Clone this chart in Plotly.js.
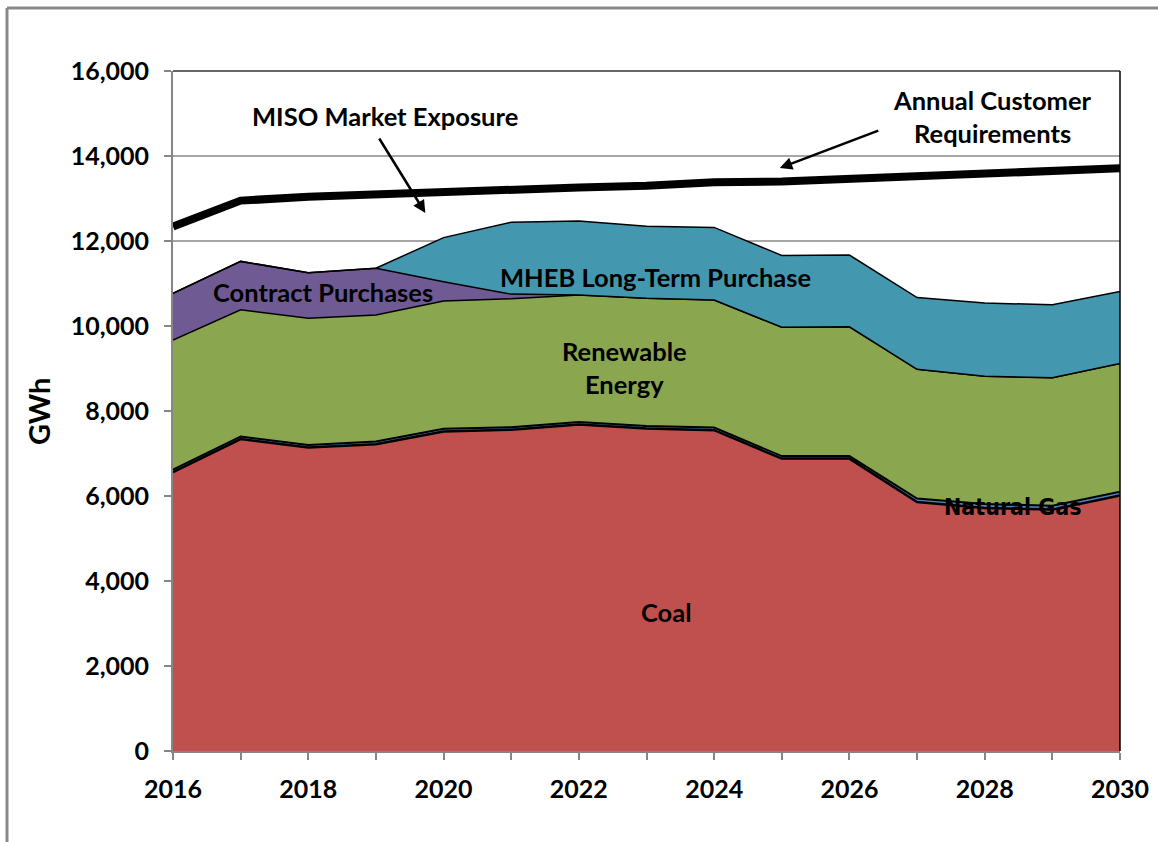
<!DOCTYPE html>
<html>
<head>
<meta charset="utf-8">
<script src="https://cdn.plot.ly/plotly-3.0.1.min.js"></script>
<style>html,body{margin:0;padding:0;background:#fff;}#chart{width:1158px;height:842px;}</style>
</head>
<body>
<div id="chart"></div>
<script>
const years = [2016,2017,2018,2019,2020,2021,2022,2023,2024,2025,2026,2027,2028,2029,2030];
const coal = [6560,7340,7140,7220,7520,7560,7680,7590,7550,6880,6880,5860,5720,5680,6010];
const naturalGas = [60,60,60,60,60,60,60,60,60,60,60,80,90,90,90];
const renewable = [3050,2980,2980,2980,3010,3020,2990,3000,3000,3030,3040,3040,3010,3010,3020];
const contract = [1100,1140,1075,1100,450,110,0,0,0,0,0,0,0,0,0];
const mheb = [0,0,0,0,1040,1690,1740,1700,1710,1690,1690,1690,1720,1720,1690];
const customerReq = [12340,12950,13040,13100,13180,13210,13260,13300,13380,13400,13460,13510,13610,13640,13710];
const xTickLabels = ['2016','','2018','','2020','','2022','','2024','','2026','','2028','','2030'];
const yTicks = [0,2000,4000,6000,8000,10000,12000,14000,16000];

const mk = (name, y, fill, lw) => ({
  x: years, y: y, name: name, type:'scatter', mode:'lines', stackgroup:'one',
  line:{color:'#000000', width: lw || 1.5}, fillcolor: fill, hoverinfo:'skip'
});

const traces = [
  mk('Coal', coal, '#C0504D', 2.5),
  mk('Natural Gas', naturalGas, '#4F81BD', 2),
  mk('Renewable Energy', renewable, '#8AA64E', 1.5),
  mk('Contract Purchases', contract, '#705A93', 1.5),
  mk('MHEB Long-Term Purchase', mheb, '#4398AF', 1.5),
  {x: years, y: customerReq, name:'Annual Customer Requirements', type:'scatter', mode:'lines',
   line:{color:'#000000', width:8}, hoverinfo:'skip'}
];

const F = 'Lato, "Open Sans", sans-serif';
const tf = {family: F, size: 25, color:'#000000', weight:'bold'};
const af = {family: F, size: 25.5, color:'#000000', weight:'bold'};

const layout = {
  width:1158, height:842,
  margin:{l:173, r:38, t:71, b:91},
  paper_bgcolor:'#ffffff', plot_bgcolor:'#ffffff',
  showlegend:false,
  xaxis:{range:[2016,2030], tickvals:years, ticktext:xTickLabels, ticks:'outside', ticklen:7,
    tickcolor:'#868686', tickwidth:2, showgrid:false, zeroline:false, ticklabelstandoff:8,
    showline:true, linecolor:'#868686', linewidth:2, tickfont:tf},
  yaxis:{range:[0,16000], tickvals:yTicks, tickformat:',d', ticks:'outside', ticklen:7,
    tickcolor:'#868686', tickwidth:2, showgrid:true, gridcolor:'#A6A6A6', gridwidth:1.5,
    zeroline:false, showline:true, linecolor:'#868686', linewidth:2, tickfont:tf, ticklabelstandoff:10},
  shapes:[
    {type:'line', xref:'paper', yref:'paper', x0:0, x1:1, y0:1, y1:1, line:{color:'#333333', width:1.5}},
    {type:'line', xref:'paper', yref:'paper', x0:1, x1:1, y0:0, y1:1, line:{color:'#000000', width:1.5}},
    {type:'line', xref:'paper', yref:'paper', x0:-0.1753, x1:1.1, y0:1.0926, y1:1.0926, line:{color:'#898989', width:3}},
    {type:'line', xref:'paper', yref:'paper', x0:-0.1753, x1:-0.1753, y0:1.0926, y1:-0.2, line:{color:'#898989', width:3}}
  ],
  annotations:[
    {xref:'paper', yref:'paper', x:-0.1425, y:0.5, xanchor:'center', yanchor:'middle', text:'GWh', textangle:-90, showarrow:false, font:{family:F, size:29, color:'#000', weight:'bold'}},
    {x:2019.13, y:14941, text:'MISO Market Exposure', showarrow:false, font:af},
    {x:2028.11, y:14918, text:'Annual Customer<br>Requirements', showarrow:false, font:af},
    {x:2019.73, y:12659, ax:-47, ay:-76, text:'', showarrow:true, arrowhead:2, arrowsize:1, arrowwidth:2.5, arrowcolor:'#000'},
    {x:2024.97, y:13718, ax:100, ay:-38, text:'', showarrow:true, arrowhead:2, arrowsize:1, arrowwidth:2.5, arrowcolor:'#000'},
    {x:2018.22, y:10800, text:'Contract Purchases', showarrow:false, font:af},
    {x:2023.13, y:11153, text:'MHEB Long-Term Purchase', showarrow:false, font:af},
    {x:2022.67, y:9035, text:'Renewable<br>Energy', showarrow:false, font:af},
    {x:2028.42, y:5741, text:'Natural Gas', showarrow:false, font:{family:'"Liberation Sans Narrow", "DejaVu Sans Condensed", sans-serif', size:23, color:'#000', weight:'bold'}},
    {x:2023.30, y:3271, text:'Coal', showarrow:false, font:af}
  ]
};

Plotly.newPlot('chart', traces, layout, {staticPlot:true, displayModeBar:false});
</script>
</body>
</html>
